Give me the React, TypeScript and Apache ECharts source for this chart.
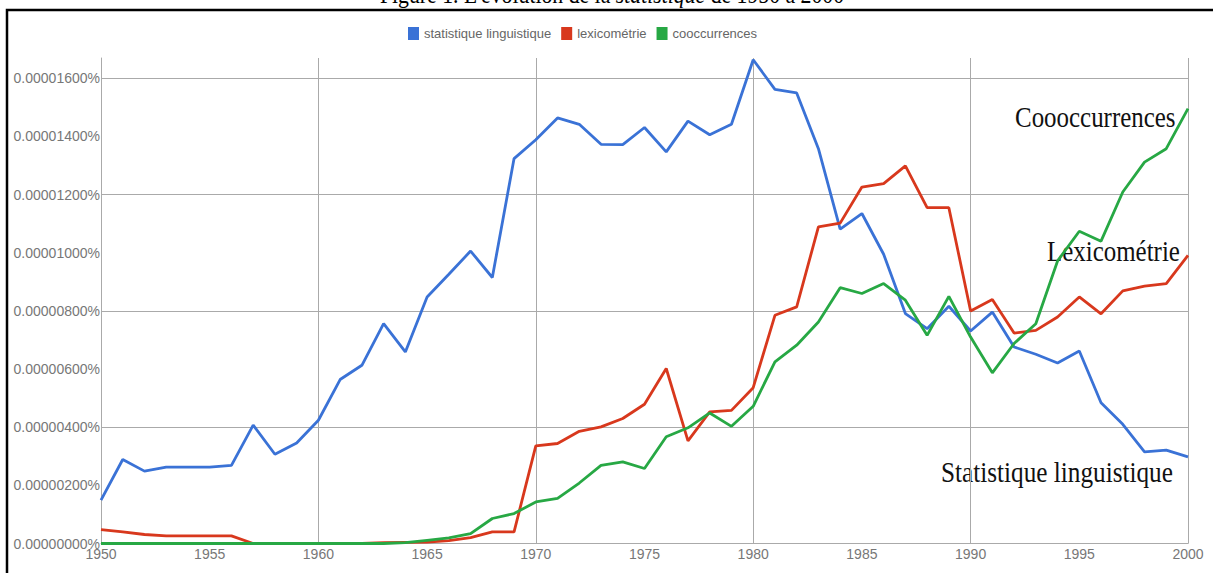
import React, { useEffect, useRef } from "react";
import * as echarts from "echarts";

const years: number[] = Array.from({ length: 51 }, (_, i) => 1950 + i);

const statistique = [
  1.49, 2.89, 2.49, 2.63, 2.63, 2.63, 2.69, 4.07, 3.07, 3.46,
  4.24, 5.64, 6.13, 7.56, 6.59, 8.48, 9.26, 10.06, 9.15, 13.24,
  13.89, 14.64, 14.42, 13.73, 13.72, 14.31, 13.47, 14.53, 14.06, 14.42,
  16.64, 15.62, 15.5, 13.58, 10.81, 11.35, 9.95, 7.91, 7.39, 8.16,
  7.31, 7.96, 6.76, 6.51, 6.21, 6.62, 4.84, 4.1, 3.15, 3.21,
  2.98,
];

const lexicometrie = [
  0.48, 0.4, 0.31, 0.26, 0.26, 0.26, 0.26, 0, 0, 0,
  0, 0, 0, 0.03, 0.04, 0.05, 0.1, 0.2, 0.4, 0.4,
  3.36, 3.44, 3.86, 4.01, 4.3, 4.79, 6.02, 3.53, 4.53, 4.58,
  5.36, 7.85, 8.14, 10.89, 11.02, 12.26, 12.38, 12.99, 11.55, 11.55,
  8.0, 8.39, 7.24, 7.33, 7.79, 8.48, 7.9, 8.69, 8.85, 8.94,
  9.91,
];

const cooccurrences = [
  0, 0, 0, 0, 0, 0, 0, 0, 0, 0,
  0, 0, 0, 0, 0.03, 0.11, 0.19, 0.34, 0.86, 1.03,
  1.43, 1.55, 2.08, 2.69, 2.81, 2.58, 3.67, 3.98, 4.49, 4.03,
  4.72, 6.25, 6.82, 7.62, 8.8, 8.6, 8.94, 8.37, 7.16, 8.5,
  7.1, 5.87, 6.88, 7.56, 9.72, 10.74, 10.4, 12.09, 13.12, 13.58,
  14.96,
];

const seriesNames = ["statistique linguistique", "lexicométrie", "cooccurrences"];
const seriesColors = ["#3a72d6", "#d8381d", "#27a844"];
const titleText = "Figure 1. L'évolution de la {i|statistique} de 1950 à 2000";
const annotations = ["Coooccurrences", "Lexicométrie", "Statistique linguistique"];

export default function App() {
  const ref = useRef<HTMLDivElement>(null);

  useEffect(() => {
    if (!ref.current) return;
    const chart = echarts.init(ref.current, null, { renderer: "svg" });
    const allSeries = [statistique, lexicometrie, cooccurrences];
    const serif = "'Liberation Serif', 'DejaVu Serif', serif";

    chart.setOption({
      animation: false,
      backgroundColor: "#ffffff",
      color: seriesColors,
      legend: {
        top: 22,
        left: 403,
        itemWidth: 11,
        itemHeight: 13,
        itemGap: 10,
        icon: "rect",
        textStyle: {
          color: "#666",
          fontSize: 13,
          fontFamily: "'Liberation Sans', Arial, sans-serif",
        },
        data: seriesNames,
      },
      grid: { left: 101, right: 25, top: 58, bottom: 29.5, containLabel: false },
      xAxis: {
        type: "value",
        min: 1950,
        max: 2000,
        interval: 5,
        axisLine: { show: true, lineStyle: { color: "#aaa", width: 1 } },
        axisTick: { show: false },
        axisLabel: {
          color: "#777",
          fontSize: 14,
          margin: 3,
          fontFamily: "'Liberation Sans', Arial, sans-serif",
          formatter: (v: number) => String(v),
        },
        splitLine: {
          show: true,
          lineStyle: { color: ["#aaa", "rgba(0,0,0,0)"], width: 1 },
        },
      },
      yAxis: {
        type: "value",
        min: 0,
        max: 16.7,
        interval: 2,
        axisLine: { show: true, lineStyle: { color: "#aaa", width: 1 } },
        axisTick: { show: false },
        axisLabel: {
          color: "#777",
          fontSize: 14,
          margin: 1,
          padding: [6, 0, 0, 0],
          fontFamily: "'Liberation Sans', Arial, sans-serif",
          formatter: (v: number) =>
            Math.abs(v % 2) < 1e-9 ? (v / 1e6).toFixed(8) + "%" : "",
        },
        splitLine: {
          show: true,
          showMaxLine: false,
          lineStyle: { color: ["#aaa", "rgba(0,0,0,0)"], width: 1 },
        },
      },
      series: allSeries.map((vals, k) => ({
        name: seriesNames[k],
        type: "line",
        showSymbol: false,
        symbol: "none",
        clip: false,
        lineStyle: { width: 2.8, color: seriesColors[k] },
        itemStyle: { color: seriesColors[k] },
        data: years.map((y, i) => [y, vals[i]]),
      })),
      graphic: [
        {
          type: "rect",
          shape: { x: 7, y: 10, width: 1230, height: 600 },
          style: { fill: "none", stroke: "#000", lineWidth: 2.5 },
          silent: true,
        },
        {
          type: "text",
          x: 612,
          y: -5.5,
          scaleX: 0.87,
          style: {
            text: titleText,
            fill: "#000",
            fontSize: 25,
            fontFamily: serif,
            align: "center",
            verticalAlign: "middle",
            rich: { i: { fontStyle: "italic", fontSize: 25, fontFamily: serif } },
          },
        },
        {
          type: "text",
          x: 1015,
          y: 117,
          scaleX: 0.86,
          style: {
            text: annotations[0],
            fill: "#111",
            fontSize: 29,
            fontFamily: serif,
            align: "left",
            verticalAlign: "middle",
          },
        },
        {
          type: "text",
          x: 1047,
          y: 251,
          scaleX: 0.86,
          style: {
            text: annotations[1],
            fill: "#111",
            fontSize: 29,
            fontFamily: serif,
            align: "left",
            verticalAlign: "middle",
          },
        },
        {
          type: "text",
          x: 941,
          y: 472,
          scaleX: 0.87,
          style: {
            text: annotations[2],
            fill: "#111",
            fontSize: 29,
            fontFamily: serif,
            align: "left",
            verticalAlign: "middle",
          },
        },
      ],
    });

    return () => chart.dispose();
  }, []);

  return (
    <div
      ref={ref}
      style={{ position: "absolute", left: 0, top: 0, width: 1213, height: 573 }}
    />
  );
}
